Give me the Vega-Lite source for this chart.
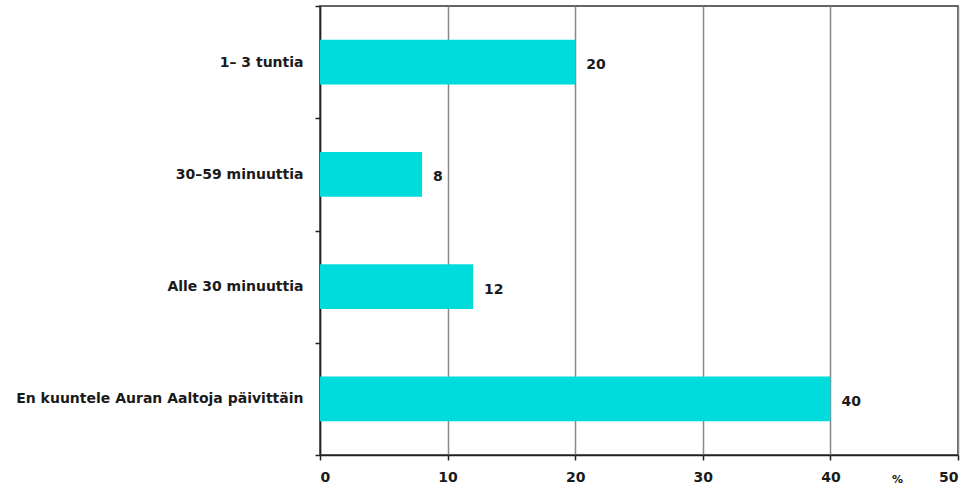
{
  "$schema": "https://vega.github.io/schema/vega-lite/v6.json",
  "width": 638,
  "height": 449,
  "autosize": {"type": "none"},
  "padding": {"left": 320, "top": 6, "right": 14, "bottom": 35},
  "background": "white",
  "config": {
    "view": {"stroke": "#333333", "strokeWidth": 1.5},
    "font": "DejaVu Sans"
  },
  "data": {
    "values": [
      {"kategoria": "1– 3 tuntia", "prosentti": 20},
      {"kategoria": "30–59 minuuttia", "prosentti": 8},
      {"kategoria": "Alle 30 minuuttia", "prosentti": 12},
      {"kategoria": "En kuuntele Auran Aaltoja päivittäin", "prosentti": 40}
    ]
  },
  "encoding": {
    "y": {
      "field": "kategoria",
      "type": "nominal",
      "sort": null,
      "scale": {"paddingInner": 0, "paddingOuter": 0},
      "axis": {
        "title": null,
        "tickBand": "extent",
        "tickSize": 5,
        "tickColor": "#222222",
        "tickWidth": 1.5,
        "domainColor": "#222222",
        "domainWidth": 1.5,
        "labelPadding": 12,
        "labelLimit": 400,
        "labelFont": "DejaVu Sans",
        "labelFontWeight": "bold",
        "labelFontSize": 14,
        "labelColor": "#1a1a1a",
        "grid": false
      }
    },
    "x": {
      "field": "prosentti",
      "type": "quantitative",
      "scale": {"domain": [0, 50], "nice": false},
      "axis": {
        "values": [0, 10, 20, 30, 40, 50],
        "title": "%",
        "titleX": 577,
        "titleY": 24,
        "titleAnchor": "middle",
        "titleBaseline": "middle",
        "titleFont": "DejaVu Sans",
        "titleFontWeight": "bold",
        "titleFontSize": 11,
        "titleColor": "#1a1a1a",
        "grid": true,
        "gridColor": "#888888",
        "gridWidth": 1.5,
        "tickSize": 5,
        "tickColor": "#222222",
        "tickWidth": 1.5,
        "domainColor": "#222222",
        "domainWidth": 1.5,
        "labelPadding": 10,
        "labelFont": "DejaVu Sans",
        "labelFontWeight": "bold",
        "labelFontSize": 14,
        "labelColor": "#1a1a1a"
      }
    }
  },
  "layer": [
    {"mark": {"type": "bar", "color": "#00DCDC", "height": {"band": 0.4}}},
    {
      "mark": {"type": "text", "align": "left", "baseline": "middle", "dx": 11, "dy": 3, "font": "DejaVu Sans", "fontWeight": "bold", "fontSize": 14, "color": "#1a1a1a"},
      "encoding": {"text": {"field": "prosentti", "type": "quantitative"}}
    }
  ]
}
